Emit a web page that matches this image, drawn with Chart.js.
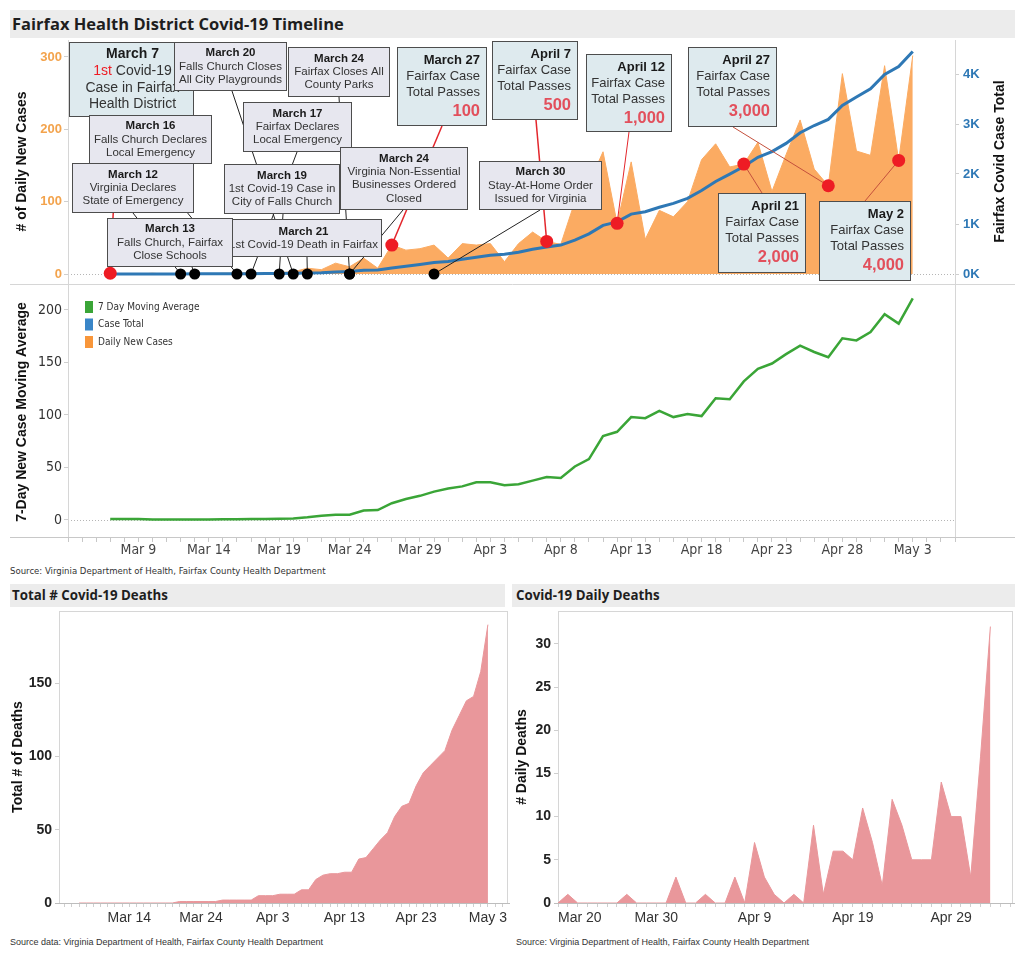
<!DOCTYPE html>
<html lang="en">
<head>
<meta charset="utf-8">
<title>Fairfax Health District Covid-19 Timeline</title>
<script src="https://cdn.jsdelivr.net/npm/chart.js@4.4.1/dist/chart.umd.min.js"></script>
<style>
  html, body { margin: 0; padding: 0; background: #fff; }
  #page { position: relative; width: 1024px; height: 959px; overflow: hidden; font-family: 'Liberation Sans', Arial, sans-serif; color: #333; }
  .panel-title { position: absolute; background: #ececec; color: #1e1e1e; font-family: 'Open Sans', sans-serif; font-weight: 700; white-space: nowrap; box-sizing: border-box; }
  .box { position: absolute; }
  .source { position: absolute; font-size: 9px; color: #333; white-space: nowrap; }
  .narrow { font-family: 'Liberation Sans Narrow', 'DejaVu Sans Condensed', sans-serif; font-stretch: condensed; font-size: 9.5px; }
</style>
</head>
<body>
<div id="page">
  <div class="panel-title" style="left:10px;top:10px;width:1005px;height:28px;padding-left:2px;font-size:16.5px;line-height:28px">Fairfax Health District Covid-19 Timeline</div>
  <div class="box" style="left:10px;top:40px;width:1005px;height:245px"><canvas id="casesChart"></canvas></div>
  <div class="box" style="left:10px;top:285px;width:1005px;height:275px"><canvas id="averageChart"></canvas></div>
  <div class="source narrow" style="left:10px;top:565px">Source: Virginia Department of Health, Fairfax County Health Department</div>

  <div class="panel-title" style="left:10px;top:584px;width:495px;height:23px;padding-left:2px;font-size:13.3px;line-height:23px">Total # Covid-19 Deaths</div>
  <div class="panel-title" style="left:512px;top:584px;width:503px;height:23px;padding-left:4px;font-size:13.3px;line-height:23px">Covid-19 Daily Deaths</div>
  <div class="box" style="left:10px;top:607px;width:500px;height:325px"><canvas id="totalDeathsChart"></canvas></div>
  <div class="box" style="left:512px;top:607px;width:503px;height:325px"><canvas id="dailyDeathsChart"></canvas></div>
  <div class="source" style="left:10px;top:937px">Source data: Virginia Department of Health, Fairfax County Health Department</div>
  <div class="source" style="left:516px;top:937px">Source: Virginia Department of Health, Fairfax County Health Department</div>
</div>

<script>
// ---- data ----
const dates = [
  'Mar 7', 'Mar 8', 'Mar 9', 'Mar 10', 'Mar 11', 'Mar 12', 'Mar 13', 'Mar 14', 'Mar 15', 'Mar 16',
  'Mar 17', 'Mar 18', 'Mar 19', 'Mar 20', 'Mar 21', 'Mar 22', 'Mar 23', 'Mar 24', 'Mar 25', 'Mar 26',
  'Mar 27', 'Mar 28', 'Mar 29', 'Mar 30', 'Mar 31', 'Apr 1', 'Apr 2', 'Apr 3', 'Apr 4', 'Apr 5',
  'Apr 6', 'Apr 7', 'Apr 8', 'Apr 9', 'Apr 10', 'Apr 11', 'Apr 12', 'Apr 13', 'Apr 14', 'Apr 15',
  'Apr 16', 'Apr 17', 'Apr 18', 'Apr 19', 'Apr 20', 'Apr 21', 'Apr 22', 'Apr 23', 'Apr 24', 'Apr 25',
  'Apr 26', 'Apr 27', 'Apr 28', 'Apr 29', 'Apr 30', 'May 1', 'May 2', 'May 3'
];

const dailyCases = [
  1, 0, 0, 1, 0, 0, 1, 0, 1, 1,
  2, 1, 2, 3, 8, 6, 15, 10, 22, 8,
  40, 33, 35, 40, 22, 42, 40, 42, 17, 42,
  58, 45, 41, 100, 125, 169, 70, 155, 48, 88,
  79, 100, 158, 180, 148, 152, 182, 114, 165, 213,
  145, 122, 277, 170, 164, 288, 157, 302
];

const caseTotal = [
  1, 1, 1, 2, 2, 2, 3, 3, 4, 5,
  7, 8, 10, 13, 21, 27, 42, 52, 74, 82,
  122, 155, 190, 230, 252, 294, 334, 376, 393, 435,
  493, 538, 579, 679, 804, 973, 1043, 1198, 1246, 1334,
  1413, 1513, 1671, 1851, 1999, 2151, 2333, 2447, 2612, 2825,
  2970, 3092, 3369, 3539, 3703, 3991, 4148, 4450
];

const movingAverage = [
  1, 1, 1, 0.5, 0.5, 0.5, 0.5, 0.5, 0.7, 0.7,
  1, 1, 1.3, 1.5, 2.5, 4, 5, 5, 9, 9.5,
  16, 20, 23, 27, 30, 32, 36, 36, 33, 34,
  37.5, 41, 40, 51, 58, 80, 84, 98, 97, 104,
  98, 101, 99, 116, 115, 132, 144, 149, 158, 166,
  160, 155, 173, 171, 179, 196, 187, 211
];

const totalDeaths = [
  0, 0, 0, 0, 0, 0, 0, 0, 0, 0,
  0, 0, 0, 0, 1, 1, 1, 1, 1, 1,
  2, 2, 2, 2, 2, 5, 5, 5, 6, 6,
  6, 9, 9, 16, 19, 20, 20, 21, 21, 30,
  31, 37, 43, 48, 59, 66, 68, 80, 89, 94,
  99, 104, 118, 128, 138, 141, 158, 190
];

const dailyDeaths = [
  0, 0, 0, 0, 0, 0, 0, 0, 0, 0,
  0, 0, 0, 0, 1, 0, 0, 0, 0, 0,
  1, 0, 0, 0, 0, 3, 0, 0, 1, 0,
  0, 3, 0, 7, 3, 1, 0, 1, 0, 9,
  1, 6, 6, 5, 11, 7, 2, 12, 9, 5,
  5, 5, 14, 10, 10, 3, 17, 32
];

const timelineTickLabels = ['Mar 9', 'Mar 14', 'Mar 19', 'Mar 24', 'Mar 29', 'Apr 3', 'Apr 8', 'Apr 13', 'Apr 18', 'Apr 23', 'Apr 28', 'May 3'];
const totalDeathTickLabels = ['Mar 14', 'Mar 24', 'Apr 3', 'Apr 13', 'Apr 23', 'May 3'];
const dailyDeathTickLabels = ['Mar 20', 'Mar 30', 'Apr 9', 'Apr 19', 'Apr 29'];

const dailyCaseTicks = [0, 100, 200, 300];
const caseTotalTicks = [0, 1000, 2000, 3000, 4000];
const averageTicks = [0, 50, 100, 150, 200];
const totalDeathTicks = [0, 50, 100, 150];
const dailyDeathTicks = [0, 5, 10, 15, 20, 25, 30];

const legendLabels = ['7 Day Moving Average', 'Case Total', 'Daily New Cases'];

// timeline events (black dots)
const eventDates = ['Mar 12', 'Mar 13', 'Mar 16', 'Mar 17', 'Mar 19', 'Mar 20', 'Mar 21', 'Mar 24', 'Mar 24', 'Mar 30'];
const eventTitles = ['March 12', 'March 13', 'March 16', 'March 17', 'March 19', 'March 20', 'March 21', 'March 24', 'March 24', 'March 30'];
const eventTexts = [
  ['Virginia Declares', 'State of Emergency'],
  ['Falls Church, Fairfax', 'Close Schools'],
  ['Falls Church Declares', 'Local Emergency'],
  ['Fairfax Declares', 'Local Emergency'],
  ['1st Covid-19 Case in', 'City of Falls Church'],
  ['Falls Church Closes', 'All City Playgrounds'],
  ['1st Covid-19 Death in Fairfax'],
  ['Fairfax Closes All', 'County Parks'],
  ['Virginia Non-Essential', 'Businesses Ordered', 'Closed'],
  ['Stay-At-Home Order', 'Issued for Virginia']
];

// case milestones (red dots)
const milestoneDates = ['Mar 7', 'Mar 27', 'Apr 7', 'Apr 12', 'Apr 21', 'Apr 27', 'May 2'];
const milestoneTitles = ['March 7', 'March 27', 'April 7', 'April 12', 'April 21', 'April 27', 'May 2'];
const milestoneTotals = ['', '100', '500', '1,000', '2,000', '3,000', '4,000'];
const milestoneText = ['Fairfax Case', 'Total Passes'];
const firstCaseText = ['1st', ' Covid-19', 'Case in Fairfax', 'Health District'];

const rightAxisTitle = 'Fairfax Covid Case Total';

// ---- styling ----
const SANS = "'Liberation Sans', Arial, sans-serif";
const NARROW = "'Liberation Sans Narrow', 'DejaVu Sans Condensed', sans-serif";
const ORANGE = '#fbab62';
const BLUE = '#2e78b5';
const GREEN = '#3aa537';
const RED = '#ee1c24';
const PINK = '#e9979b';
const NUMBER_RED = '#e2505c';
const EVENT_FILL = '#e7e7ef';
const MILESTONE_FILL = '#deeaee';
const BOX_EDGE = '#4d4d4d';
const FRAME = '#d6d6d6';
const legendColors = [GREEN, '#3a86c8', '#f8963a'];

// annotation boxes, in canvas pixels of the top chart (x, y, w, h, connector start)
const eventBoxes = [
  { x: 62, y: 123, w: 122, h: 50, ax: 123, ay: 173 },
  { x: 97, y: 178, w: 126, h: 49, ax: 182, ay: 227 },
  { x: 79, y: 75, w: 123, h: 49, ax: 138, ay: 124 },
  { x: 233, y: 62, w: 109, h: 50, ax: 287, ay: 112 },
  { x: 214, y: 124, w: 116, h: 50, ax: 273, ay: 174 },
  { x: 164, y: 2, w: 113, h: 49, ax: 222, ay: 51 },
  { x: 215, y: 179, w: 157, h: 38, ax: 297, ay: 217 },
  { x: 278, y: 7, w: 102, h: 50, ax: 329, ay: 57 },
  { x: 330, y: 107, w: 128, h: 63, ax: 393, ay: 170 },
  { x: 469, y: 121, w: 123, h: 49, ax: 530, ay: 170 }
];
const milestoneBoxes = [
  { x: 59, y: 2, w: 125, h: 75, ax: 108, ay: 77, lw: 1.5, lc: '#e3262c' },
  { x: 387, y: 7, w: 90, h: 79, ax: 432, ay: 86, lw: 1.5, lc: '#e3262c' },
  { x: 482, y: 1, w: 86, h: 79, ax: 526, ay: 80, lw: 1.5, lc: '#e3262c' },
  { x: 576, y: 14, w: 86, h: 78, ax: 619, ay: 92, lw: 1, lc: '#e3262c' },
  { x: 708, y: 153, w: 88, h: 80, ax: 752, ay: 153, lw: 1, lc: '#c4503c' },
  { x: 678, y: 7, w: 89, h: 80, ax: 723, ay: 87, lw: 1, lc: '#c4503c' },
  { x: 809, y: 161, w: 92, h: 80, ax: 855, ay: 161, lw: 1, lc: '#c4503c' }
];
// which box goes on top of which
const boxOrder = [['m', 0], ['e', 5], ['e', 7], ['e', 2], ['e', 0], ['e', 3], ['e', 4], ['e', 8], ['e', 6], ['e', 1], ['e', 9],
  ['m', 1], ['m', 2], ['m', 3], ['m', 4], ['m', 5], ['m', 6]];

Chart.defaults.animation = false;
Chart.defaults.events = [];
Chart.defaults.responsive = true;
Chart.defaults.maintainAspectRatio = false;
Chart.defaults.font.family = SANS;
Chart.defaults.color = '#333';
Chart.defaults.layout.autoPadding = false;
Chart.defaults.plugins.legend.display = false;
Chart.defaults.plugins.tooltip.enabled = false;

const asPoints = arr => arr.map((v, i) => ({ x: i, y: v }));
const fixedTicks = values => scale => { scale.ticks = values.map(v => ({ value: v })); };

function strokeLine(ctx, x1, y1, x2, y2, color, width, dash) {
  ctx.save();
  ctx.strokeStyle = color;
  ctx.lineWidth = width;
  ctx.setLineDash(dash || []);
  ctx.beginPath();
  ctx.moveTo(x1, y1);
  ctx.lineTo(x2, y2);
  ctx.stroke();
  ctx.restore();
}

function drawBox(ctx, b, fill) {
  ctx.fillStyle = fill;
  ctx.fillRect(b.x, b.y, b.w, b.h);
  ctx.strokeStyle = BOX_EDGE;
  ctx.lineWidth = 1;
  ctx.strokeRect(b.x + 0.5, b.y + 0.5, b.w - 1, b.h - 1);
}

function drawEventBox(ctx, i) {
  const b = eventBoxes[i];
  drawBox(ctx, b, EVENT_FILL);
  const lines = [eventTitles[i]].concat(eventTexts[i]);
  const lh = 13.3;
  const y0 = b.y + (b.h - lines.length * lh) / 2 + lh / 2;
  ctx.textAlign = 'center';
  ctx.textBaseline = 'middle';
  lines.forEach((t, k) => {
    ctx.font = (k === 0 ? 'bold ' : '') + '11.5px ' + SANS;
    ctx.fillStyle = k === 0 ? '#1a1a1a' : '#333';
    ctx.fillText(t, b.x + b.w / 2, y0 + k * lh);
  });
}

function drawFirstCaseBox(ctx) {
  const b = milestoneBoxes[0];
  drawBox(ctx, b, MILESTONE_FILL);
  const cx = b.x + b.w / 2 + 1;
  ctx.textBaseline = 'middle';
  ctx.textAlign = 'center';
  ctx.font = 'bold 14px ' + SANS;
  ctx.fillStyle = '#1a1a1a';
  ctx.fillText(milestoneTitles[0], cx, b.y + 12);
  ctx.font = '14px ' + SANS;
  // "1st" in red followed by the rest of the line
  const w1 = ctx.measureText(firstCaseText[0]).width;
  const w2 = ctx.measureText(firstCaseText[1]).width;
  ctx.textAlign = 'left';
  ctx.fillStyle = RED;
  ctx.fillText(firstCaseText[0], cx - (w1 + w2) / 2, b.y + 29);
  ctx.fillStyle = '#333';
  ctx.fillText(firstCaseText[1], cx - (w1 + w2) / 2 + w1, b.y + 29);
  ctx.textAlign = 'center';
  ctx.fillText(firstCaseText[2], cx, b.y + 46);
  ctx.fillText(firstCaseText[3], cx, b.y + 62);
}

function drawMilestoneBox(ctx, i) {
  if (i === 0) return drawFirstCaseBox(ctx);
  const b = milestoneBoxes[i];
  drawBox(ctx, b, MILESTONE_FILL);
  const rx = b.x + b.w - 7;
  ctx.textAlign = 'right';
  ctx.textBaseline = 'middle';
  ctx.font = 'bold 13px ' + SANS;
  ctx.fillStyle = '#1a1a1a';
  ctx.fillText(milestoneTitles[i], rx, b.y + 13);
  ctx.font = '13px ' + SANS;
  ctx.fillStyle = '#333';
  milestoneText.forEach((t, k) => ctx.fillText(t, rx, b.y + 29 + k * 16));
  ctx.font = 'bold 16.5px ' + SANS;
  ctx.fillStyle = NUMBER_RED;
  ctx.fillText(milestoneTotals[i], rx, b.y + 64);
}

// callouts are drawn above the area and line but below the dots
const timelineNotes = {
  id: 'timelineNotes',
  beforeDraw(chart) { chart.$notesDone = false; },
  beforeDatasetDraw(chart, args) {
    if (chart.$notesDone || args.meta.type !== 'scatter') return;
    chart.$notesDone = true;
    const ctx = chart.ctx;
    const evPts = chart.getDatasetMeta(2).data;
    const msPts = chart.getDatasetMeta(3).data;
    eventBoxes.forEach((b, i) => strokeLine(ctx, b.ax, b.ay, evPts[i].x, evPts[i].y, '#222', 1));
    milestoneBoxes.forEach((b, i) => strokeLine(ctx, b.ax, b.ay, msPts[i].x, msPts[i].y, b.lc, b.lw));
    ctx.save();
    boxOrder.forEach(([kind, i]) => kind === 'e' ? drawEventBox(ctx, i) : drawMilestoneBox(ctx, i));
    ctx.restore();
  }
};

const caseFrame = {
  id: 'caseFrame',
  beforeDatasetsDraw(chart) {
    const { ctx, chartArea: a, scales } = chart;
    const y0 = Math.round(scales.yCases.getPixelForValue(0)) + 0.5;
    strokeLine(ctx, a.left, y0, a.right, y0, '#b5b5b5', 1, [1, 2]);
    strokeLine(ctx, a.left + 0.5, 0, a.left + 0.5, chart.height, FRAME, 1);
    strokeLine(ctx, a.right + 0.5, 0, a.right + 0.5, chart.height, FRAME, 1);
    strokeLine(ctx, 0, a.bottom + 1.5, chart.width, a.bottom + 1.5, FRAME, 1);
  },
  afterDraw(chart) {
    const { ctx, chartArea: a } = chart;
    ctx.save();
    ctx.translate(a.right + 45, (a.top + a.bottom) / 2);
    ctx.rotate(-Math.PI / 2);
    ctx.textAlign = 'center';
    ctx.textBaseline = 'middle';
    ctx.font = 'bold 14px ' + SANS;
    ctx.fillStyle = '#111';
    ctx.fillText(rightAxisTitle, 0, 0);
    ctx.restore();
  }
};

const averageFrame = {
  id: 'averageFrame',
  beforeDatasetsDraw(chart) {
    const { ctx, chartArea: a, scales } = chart;
    const y0 = Math.round(scales.y.getPixelForValue(0)) + 0.5;
    strokeLine(ctx, a.left, y0, a.right, y0, '#b5b5b5', 1, [1, 2]);
    strokeLine(ctx, a.left + 0.5, 0, a.left + 0.5, a.bottom, FRAME, 1);
    strokeLine(ctx, a.right + 0.5, 0, a.right + 0.5, a.bottom, FRAME, 1);
    strokeLine(ctx, 0, a.bottom + 0.5, chart.width, a.bottom + 0.5, '#c8c8c8', 1);
    ctx.save();
    ctx.textAlign = 'left';
    ctx.textBaseline = 'middle';
    ctx.font = '10px ' + NARROW;
    legendLabels.forEach((t, i) => {
      const cy = a.top + 20 + i * 17.5;
      ctx.fillStyle = legendColors[i];
      ctx.fillRect(a.left + 17, cy - 6, 8, 12);
      ctx.fillStyle = '#333';
      ctx.fillText(t, a.left + 30, cy);
    });
    ctx.restore();
  }
};

const deathFrame = {
  id: 'deathFrame',
  beforeDatasetsDraw(chart) {
    const { ctx, chartArea: a } = chart;
    strokeLine(ctx, a.left, a.top + 0.5, a.right, a.top + 0.5, FRAME, 1);
    strokeLine(ctx, a.left + 0.5, a.top, a.left + 0.5, a.bottom, FRAME, 1);
    strokeLine(ctx, a.right - 0.5, a.top, a.right - 0.5, a.bottom, FRAME, 1);
  },
  afterDatasetsDraw(chart) {
    const { ctx, chartArea: a } = chart;
    strokeLine(ctx, a.left - 4, a.bottom + 0.5, a.right + 2, a.bottom + 0.5, '#bdbdbd', 1);
  }
};

// ---- top: daily new cases + case total with timeline callouts ----
new Chart(document.getElementById('casesChart'), {
  type: 'line',
  data: {
    datasets: [
      {
        label: 'Daily New Cases',
        data: asPoints(dailyCases),
        yAxisID: 'yCases',
        backgroundColor: ORANGE,
        borderColor: ORANGE,
        borderWidth: 1,
        fill: 'origin',
        pointRadius: 0,
        tension: 0,
        order: 4
      },
      {
        label: 'Case Total',
        data: asPoints(caseTotal),
        yAxisID: 'yTotal',
        borderColor: BLUE,
        borderWidth: 3,
        fill: false,
        pointRadius: 0,
        tension: 0,
        order: 3
      },
      {
        type: 'scatter',
        label: 'Events',
        data: eventDates.map(d => ({ x: dates.indexOf(d), y: 0 })),
        yAxisID: 'yCases',
        pointBackgroundColor: '#000',
        pointBorderWidth: 0,
        pointRadius: 5.5,
        order: 2
      },
      {
        type: 'scatter',
        label: 'Milestones',
        data: milestoneDates.map(d => ({ x: dates.indexOf(d), y: dailyCases[dates.indexOf(d)] })),
        yAxisID: 'yCases',
        pointBackgroundColor: RED,
        pointBorderWidth: 0,
        pointRadius: 6.5,
        order: 1
      }
    ]
  },
  options: {
    clip: false,
    layout: { padding: { top: 0, bottom: 2, left: 0, right: 0 } },
    scales: {
      x: { type: 'linear', min: -3, max: 60, display: false },
      yCases: {
        position: 'left',
        min: -12.44,
        max: 323.5,
        afterFit: s => { s.width = 58; s.paddingTop = 0; s.paddingBottom = 0; },
        afterBuildTicks: fixedTicks(dailyCaseTicks),
        ticks: { padding: 2, color: '#f3a34c', font: { size: 13, weight: 'bold' } },
        grid: { drawOnChartArea: false, tickLength: 4, color: '#cfcfcf' },
        border: { display: false },
        title: { display: true, text: '# of Daily New Cases', color: '#111', font: { size: 14, weight: 'bold' } }
      },
      yTotal: {
        position: 'right',
        min: -180,
        max: 4680,
        afterFit: s => { s.width = 60; s.paddingTop = 0; s.paddingBottom = 0; },
        afterBuildTicks: fixedTicks(caseTotalTicks),
        ticks: { padding: 4, color: BLUE, font: { size: 13, weight: 'bold' }, callback: v => (v / 1000) + 'K' },
        grid: { drawOnChartArea: false, tickLength: 4, color: '#cfcfcf' },
        border: { display: false }
      }
    }
  },
  plugins: [caseFrame, timelineNotes]
});

// ---- middle: 7 day moving average ----
new Chart(document.getElementById('averageChart'), {
  type: 'line',
  data: {
    datasets: [{
      label: '7 Day Moving Average',
      data: asPoints(movingAverage),
      borderColor: GREEN,
      borderWidth: 2.5,
      fill: false,
      pointRadius: 0,
      tension: 0
    }]
  },
  options: {
    layout: { padding: { top: 2, right: 60, left: 0, bottom: 0 } },
    scales: {
      x: {
        type: 'linear',
        min: -3,
        max: 60,
        afterFit: s => { s.height = 23; s.paddingLeft = 0; s.paddingRight = 0; },
        ticks: {
          stepSize: 1, autoSkip: false, includeBounds: false, maxRotation: 0, padding: 0,
          color: '#444', font: { family: NARROW, size: 14 },
          callback: v => timelineTickLabels.includes(dates[v]) ? dates[v] : ''
        },
        grid: { drawOnChartArea: false, tickLength: 5, color: '#c8c8c8' },
        border: { display: false }
      },
      y: {
        min: -16.2,
        max: 221.9,
        afterFit: s => { s.width = 58; s.paddingTop = 0; s.paddingBottom = 0; },
        afterBuildTicks: fixedTicks(averageTicks),
        ticks: { padding: 2, color: '#333', font: { family: NARROW, size: 14 } },
        grid: { drawOnChartArea: false, tickLength: 4, color: '#cfcfcf' },
        border: { display: false },
        title: { display: true, text: '7-Day New Case Moving Average', color: '#111', font: { size: 14, weight: 'bold' } }
      }
    }
  },
  plugins: [averageFrame]
});

// ---- bottom: deaths ----
function deathsChart(id, values, cfg) {
  return new Chart(document.getElementById(id), {
    type: 'line',
    data: {
      datasets: [{
        data: asPoints(values),
        backgroundColor: PINK,
        borderColor: PINK,
        borderWidth: 1,
        fill: 'origin',
        pointRadius: 0,
        tension: 0
      }]
    },
    options: {
      layout: { padding: { top: 4, right: 2, left: 0, bottom: 0 } },
      scales: {
        x: {
          type: 'linear',
          min: cfg.xMin,
          max: cfg.xMax,
          afterFit: s => { s.height = 29; s.paddingLeft = 0; s.paddingRight = 0; },
          ticks: {
            stepSize: 1, autoSkip: false, includeBounds: false, maxRotation: 0, padding: 3,
            align: cfg.align || 'center',
            color: '#333', font: { size: 14 },
            callback: v => cfg.labels.includes(dates[v]) ? dates[v] : ''
          },
          grid: { drawOnChartArea: false, tickLength: 4, color: '#cfcfcf' },
          border: { display: false }
        },
        y: {
          min: 0,
          max: cfg.yMax,
          afterFit: s => { s.width = cfg.axisWidth; s.paddingTop = 0; s.paddingBottom = 0; },
          afterBuildTicks: fixedTicks(cfg.ticks),
          ticks: { padding: 3, color: '#222', font: { size: 14, weight: 'bold' } },
          grid: { drawOnChartArea: false, tickLength: 4, color: '#cfcfcf' },
          border: { display: false },
          title: { display: true, text: cfg.title, color: '#111', padding: cfg.titlePad, font: { size: 14, weight: 'bold' } }
        }
      }
    },
    plugins: [deathFrame]
  });
}

deathsChart('totalDeathsChart', totalDeaths, {
  xMin: -2.8, xMax: 59.8, labels: totalDeathTickLabels,
  yMax: 199.3, ticks: totalDeathTicks, axisWidth: 49, title: 'Total # of Deaths', titlePad: 0
});

deathsChart('dailyDeathsChart', dailyDeaths, {
  xMin: 13, xMax: 59.3, labels: dailyDeathTickLabels, align: 'inner',
  yMax: 33.8, ticks: dailyDeathTicks, axisWidth: 46, title: '# Daily Deaths', titlePad: 2
});
</script>
</body>
</html>
